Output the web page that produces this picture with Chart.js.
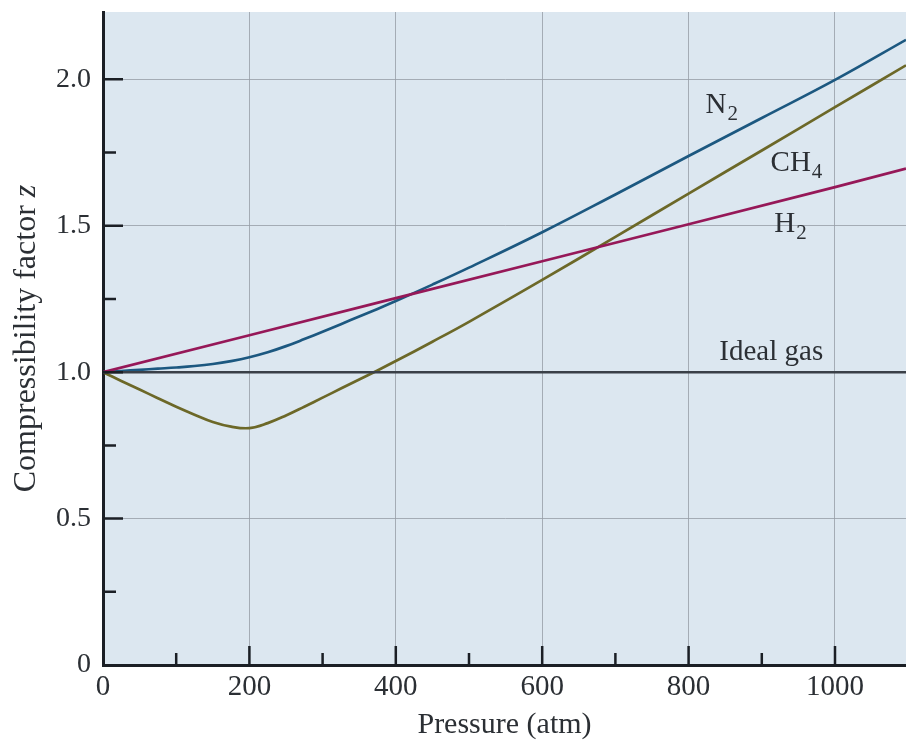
<!DOCTYPE html>
<html>
<head>
<meta charset="utf-8">
<script src="https://cdn.jsdelivr.net/npm/chart.js@4.4.0/dist/chart.umd.min.js"></script>
<style>
  html, body { margin: 0; padding: 0; background: #fff; }
  #wrap { width: 906px; height: 745px; }
</style>
</head>
<body>
<div id="wrap"><canvas id="zchart"></canvas></div>
<script>
// values
const pressure = [0, 25, 50, 75, 100, 125, 150, 175, 200, 225, 250, 275, 300, 325, 350, 375, 400, 450, 500, 600, 700, 800, 900, 1000, 1097];
const zN2 = [1.0, 1.004, 1.008, 1.012, 1.016, 1.021, 1.028, 1.038, 1.051, 1.068, 1.089, 1.113, 1.138, 1.164, 1.19, 1.216, 1.243, 1.299, 1.357, 1.478, 1.607, 1.738, 1.868, 1.998, 2.135];
const zCH4 = [1.0, 0.97, 0.941, 0.911, 0.882, 0.855, 0.83, 0.814, 0.809, 0.826, 0.852, 0.882, 0.913, 0.944, 0.975, 1.006, 1.038, 1.104, 1.172, 1.315, 1.462, 1.61, 1.757, 1.905, 2.048];
const h2Pressure = [0, 200, 400, 600, 800, 1000, 1097];
const zH2 = [1.0, 1.126, 1.253, 1.379, 1.505, 1.632, 1.695];
const idealPressure = [0, 1097];
const zIdeal = [1.0, 1.0];

const xMajor = [200, 400, 600, 800, 1000];
const xMinor = [100, 300, 500, 700, 900];
const yMajor = [0.5, 1.0, 1.5, 2.0];
const yMinor = [0.25, 0.75, 1.25, 1.75];

const curveLabels = [
  { text: 'N', sub: '2', p: 823, z: 1.884 },
  { text: 'CH', sub: '4', p: 912, z: 1.686 },
  { text: 'H', sub: '2', p: 917, z: 1.478 },
  { text: 'Ideal gas', sub: '', p: 842, z: 1.041 }
];

const serif = "'Liberation Serif', 'Times New Roman', serif";
const bg = 'rgb(220, 231, 240)';
const axisColor = '#1b1f25';
const textColor = '#2b2f34';
const gridColor = 'rgba(150, 158, 166, 0.8)';

function pts(xs, ys) {
  return xs.map((v, i) => ({ x: v, y: ys[i] }));
}

const decor = {
  id: 'decor',
  beforeDraw(chart) {
    const { ctx, chartArea: a } = chart;
    ctx.save();
    ctx.fillStyle = bg;
    ctx.fillRect(a.left, a.top, a.right - a.left, a.bottom - a.top);
    ctx.restore();
  },
  afterDraw(chart) {
    const { ctx, chartArea: a, scales } = chart;
    const x = scales.x, y = scales.y;
    ctx.save();

    // tick marks pointing into the plot
    ctx.strokeStyle = axisColor;
    ctx.lineWidth = 2.5;
    ctx.beginPath();
    xMajor.forEach(v => { const px = x.getPixelForValue(v); ctx.moveTo(px, a.bottom); ctx.lineTo(px, a.bottom - 19); });
    xMinor.forEach(v => { const px = x.getPixelForValue(v); ctx.moveTo(px, a.bottom); ctx.lineTo(px, a.bottom - 12); });
    yMajor.forEach(v => { const py = y.getPixelForValue(v); ctx.moveTo(a.left, py); ctx.lineTo(a.left + 20, py); });
    yMinor.forEach(v => { const py = y.getPixelForValue(v); ctx.moveTo(a.left, py); ctx.lineTo(a.left + 13, py); });
    ctx.stroke();

    // curve labels
    ctx.fillStyle = textColor;
    ctx.textAlign = 'left';
    ctx.textBaseline = 'alphabetic';
    curveLabels.forEach(l => {
      const px = x.getPixelForValue(l.p), py = y.getPixelForValue(l.z);
      ctx.font = '29px ' + serif;
      ctx.fillText(l.text, px, py);
      if (l.sub) {
        const w = ctx.measureText(l.text).width;
        ctx.font = '21px ' + serif;
        ctx.fillText(l.sub, px + w + 1, py + 7);
      }
    });

    // x title
    ctx.font = '30px ' + serif;
    ctx.textAlign = 'center';
    ctx.fillText('Pressure (atm)', (a.left + a.right) / 2, 733);

    // y title with italic z
    ctx.translate(35, (a.top + a.bottom) / 2);
    ctx.rotate(-Math.PI / 2);
    ctx.textAlign = 'left';
    const main = 'Compressibility factor ';
    ctx.font = '32px ' + serif;
    const w1 = ctx.measureText(main).width;
    ctx.font = 'italic 32px ' + serif;
    const w2 = ctx.measureText('z').width;
    const start = -(w1 + w2) / 2;
    ctx.font = '32px ' + serif;
    ctx.fillText(main, start, 0);
    ctx.font = 'italic 32px ' + serif;
    ctx.fillText('z', start + w1, 0);

    ctx.restore();
  }
};

const ctx = document.getElementById('zchart').getContext('2d');
new Chart(ctx, {
  type: 'line',
  data: {
    datasets: [
      { label: 'Ideal gas', data: pts(idealPressure, zIdeal), borderColor: '#3a4048', borderWidth: 2.5 },
      { label: 'H2', data: pts(h2Pressure, zH2), borderColor: 'rgb(150, 24, 88)', borderWidth: 2.7 },
      { label: 'N2', data: pts(pressure, zN2), borderColor: 'rgb(28, 88, 128)', borderWidth: 2.7, tension: 0.4 },
      { label: 'CH4', data: pts(pressure, zCH4), borderColor: 'rgb(108, 104, 40)', borderWidth: 2.7, tension: 0.4 }
    ]
  },
  options: {
    responsive: true,
    maintainAspectRatio: false,
    animation: false,
    layout: { padding: { top: 12, right: 0, bottom: 0, left: 0 } },
    elements: { point: { radius: 0 }, line: { fill: false } },
    plugins: { legend: { display: false }, tooltip: { enabled: false } },
    scales: {
      x: {
        type: 'linear',
        min: 0,
        max: 1097,
        afterFit: s => { s.height = 80; s.paddingLeft = 0; s.paddingRight = 0; },
        grid: { color: gridColor, lineWidth: 1, drawTicks: false },
        border: { color: axisColor, width: 3 },
        ticks: {
          stepSize: 200,
          includeBounds: false,
          padding: 5,
          color: textColor,
          font: { family: serif, size: 29 },
          maxRotation: 0,
          callback: v => String(v)
        }
      },
      y: {
        type: 'linear',
        min: 0,
        max: 2.23,
        afterFit: s => { s.width = 103; s.paddingTop = 0; s.paddingBottom = 0; },
        grid: { color: gridColor, lineWidth: 1, drawTicks: false },
        border: { color: axisColor, width: 3 },
        ticks: {
          stepSize: 0.5,
          includeBounds: false,
          padding: 12,
          color: textColor,
          font: { family: serif, size: 28 },
          callback: v => (v === 0 ? '0' : v.toFixed(1))
        }
      }
    }
  },
  plugins: [decor]
});
</script>
</body>
</html>
